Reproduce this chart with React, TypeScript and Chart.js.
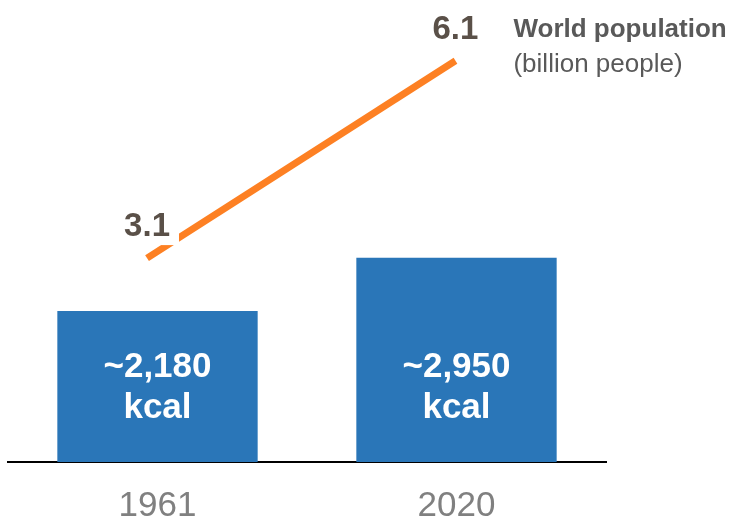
import { useEffect, useRef } from "react";
import { Chart, registerables } from "chart.js";

Chart.register(...registerables);

// Daily food supply per person (bars) and world population (line)
const years = ["1961", "2020"];
const kcalPerDay = [2180, 2950];
const populationYears = [1961, 2020];
const populationBillions = [3.1, 6.1];
const populationTitle = "World population";
const populationUnit = "(billion people)";
const kcalUnit = "kcal";

const FONT = "'Liberation Sans', Arial, Helvetica, sans-serif";
const BAR_BLUE = "#2A76B8";
const LINE_ORANGE = "#FD8023";
const VALUE_BROWN = "#5A5048";
const TEXT_GRAY = "#595959";
const AXIS_GRAY = "#808080";

const labelPlugin = {
  id: "valueLabels",
  afterDatasetsDraw(chart: any) {
    const { ctx, chartArea } = chart;
    const bars = chart.getDatasetMeta(0).data;
    const points = chart.getDatasetMeta(1).data;
    ctx.save();
    ctx.textAlign = "center";
    ctx.textBaseline = "alphabetic";

    // kcal values written inside the bars
    ctx.fillStyle = "#FFFFFF";
    ctx.font = `bold 35px ${FONT}`;
    bars.forEach((bar: any, i: number) => {
      ctx.fillText(`~${kcalPerDay[i].toLocaleString("en-US")}`, bar.x, chartArea.bottom - 85);
      ctx.fillText(kcalUnit, bar.x, chartArea.bottom - 44);
    });

    // population values above the line ends, on a white plate
    ctx.font = `bold 33px ${FONT}`;
    points.forEach((p: any, i: number) => {
      const text = populationBillions[i].toFixed(1);
      const w = ctx.measureText(text).width;
      const baseY = p.y - 22;
      ctx.fillStyle = "#FFFFFF";
      ctx.fillRect(p.x - w / 2 - 9, baseY - 33, w + 18, 42);
      ctx.fillStyle = VALUE_BROWN;
      ctx.fillText(text, p.x, baseY);
    });

    // series caption next to the latest value
    const last = points[points.length - 1];
    ctx.textAlign = "left";
    ctx.fillStyle = TEXT_GRAY;
    ctx.font = `bold 26px ${FONT}`;
    ctx.fillText(populationTitle, last.x + 58, last.y - 24);
    ctx.font = `26px ${FONT}`;
    ctx.fillText(populationUnit, last.x + 58, last.y + 11);
    ctx.restore();
  },
};

export default function App() {
  const canvasRef = useRef<HTMLCanvasElement | null>(null);

  useEffect(() => {
    if (!canvasRef.current) return;
    const chart = new Chart(canvasRef.current, {
      type: "bar",
      data: {
        labels: years,
        datasets: [
          {
            type: "bar",
            data: kcalPerDay,
            backgroundColor: BAR_BLUE,
            borderWidth: 0,
            grouped: false,
            barPercentage: 0.67,
            categoryPercentage: 1,
            xAxisID: "x",
            yAxisID: "y",
            order: 2,
          },
          {
            type: "line",
            data: populationYears.map((yr, i) => ({ x: yr, y: populationBillions[i] })),
            borderColor: LINE_ORANGE,
            borderWidth: 7,
            borderCapStyle: "butt",
            pointRadius: 0,
            tension: 0,
            fill: false,
            clip: false,
            xAxisID: "xPop",
            yAxisID: "yPop",
            order: 1,
          } as any,
        ],
      },
      options: {
        responsive: false,
        animation: false,
        events: [],
        layout: { padding: { left: 8, right: 130, top: 20, bottom: 0 } },
        plugins: {
          legend: { display: false },
          tooltip: { enabled: false },
        },
        scales: {
          x: {
            type: "category",
            offset: true,
            grid: { display: false, drawTicks: false },
            border: { display: true, color: "#000000", width: 2 },
            ticks: {
              color: AXIS_GRAY,
              font: { family: FONT, size: 35 },
              padding: 23,
            },
            afterFit: (scale: any) => {
              scale.height = 60;
            },
          },
          xPop: {
            type: "linear",
            display: false,
            offset: false,
            min: 1934.4,
            max: 2048.8,
          },
          y: {
            type: "linear",
            display: false,
            min: 0,
            max: 6380,
          },
          yPop: {
            type: "linear",
            display: false,
            min: 0,
            max: 6.72,
          },
        },
      },
      plugins: [labelPlugin],
    });
    return () => chart.destroy();
  }, []);

  return (
    <div style={{ position: "absolute", left: 0, top: 0, width: 736, height: 522, background: "#FFFFFF" }}>
      <canvas ref={canvasRef} width={736} height={522} style={{ display: "block" }} />
    </div>
  );
}
